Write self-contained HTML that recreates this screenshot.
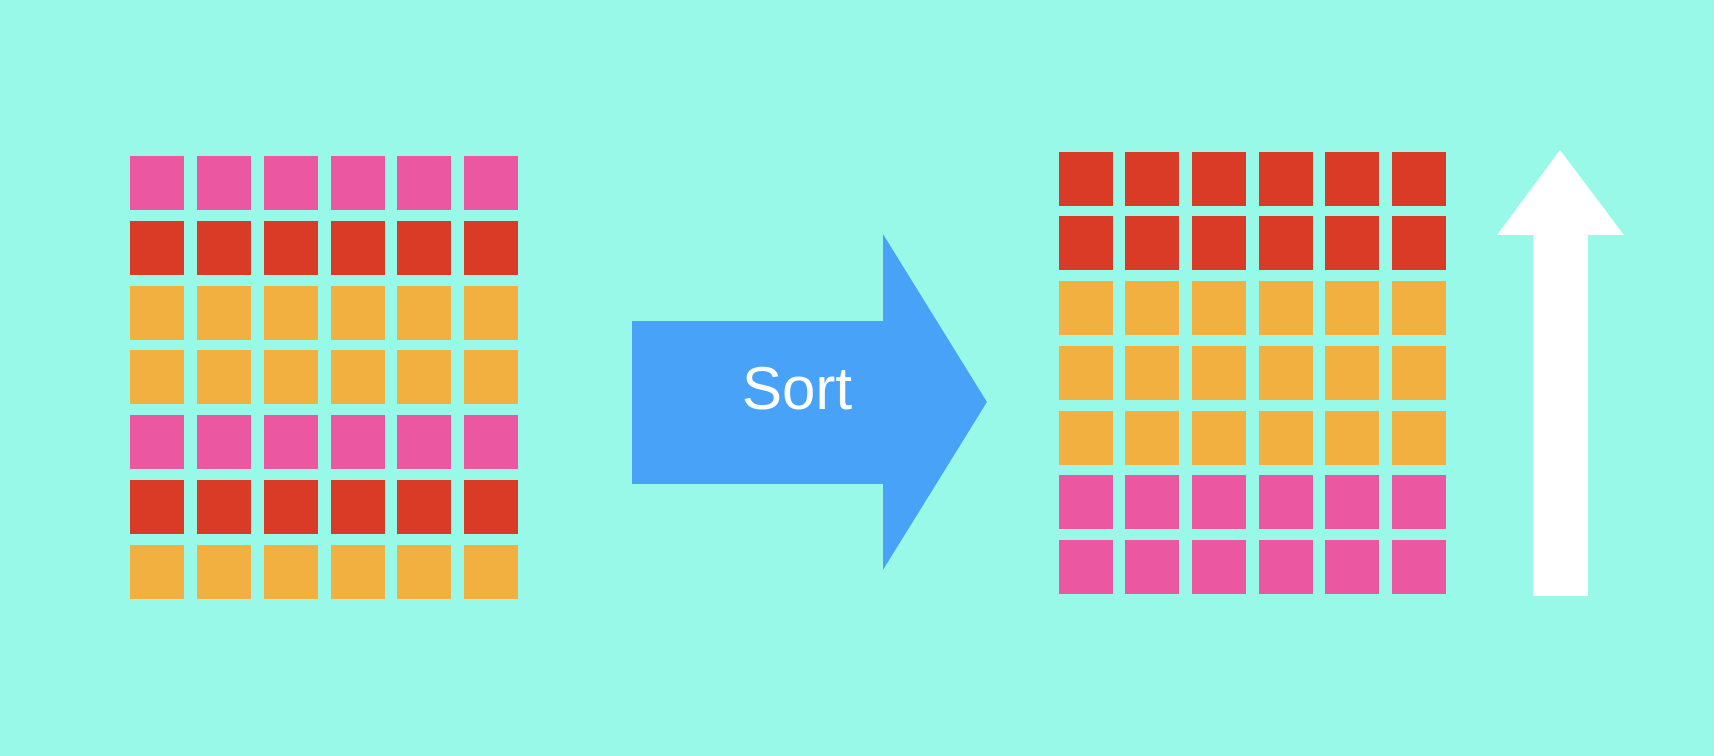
<!DOCTYPE html>
<html><head><meta charset="utf-8"><style>
html,body{margin:0;padding:0;}
body{width:1714px;height:756px;background:#98f9e9;overflow:hidden;position:relative;font-family:"Liberation Sans",sans-serif;}
.cell{position:absolute;width:54px;height:54px;}
</style></head><body>
<div id="left"></div>
<div id="right"></div>
<svg width="1714" height="756" style="position:absolute;left:0;top:0">
<polygon points="632,321 883,321 883,234 987,402 883,570 883,484 632,484" fill="#48a2f8"/>
<text x="797" y="409" text-anchor="middle" font-family="Liberation Sans, sans-serif" font-size="60" fill="#ffffff">Sort</text>
<polygon points="1560,150 1624,235 1588,235 1588,596 1533,596 1533,235 1497,235" fill="#ffffff"/>
</svg>
<script>
const colors={p:'#eb57a0',r:'#da3b26',o:'#f2b041'};
const leftRows=['p','r','o','o','p','r','o'];
const rightRows=['r','r','o','o','o','p','p'];
const leftX=[130,197,264,331,397,464], leftY=[156,221,286,350,415,480,545];
const rightX=[1059,1125,1192,1259,1325,1392], rightY=[152,216,281,346,411,475,540];
function build(id,rows,xs,ys){
  const host=document.getElementById(id);
  rows.forEach((c,r)=>xs.forEach((x,i)=>{
    const d=document.createElement('div');
    d.className='cell';
    d.style.left=x+'px';d.style.top=ys[r]+'px';d.style.background=colors[c];
    
    
    host.appendChild(d);
  }));
}
build('left',leftRows,leftX,leftY);
build('right',rightRows,rightX,rightY);
</script>
</body></html>
